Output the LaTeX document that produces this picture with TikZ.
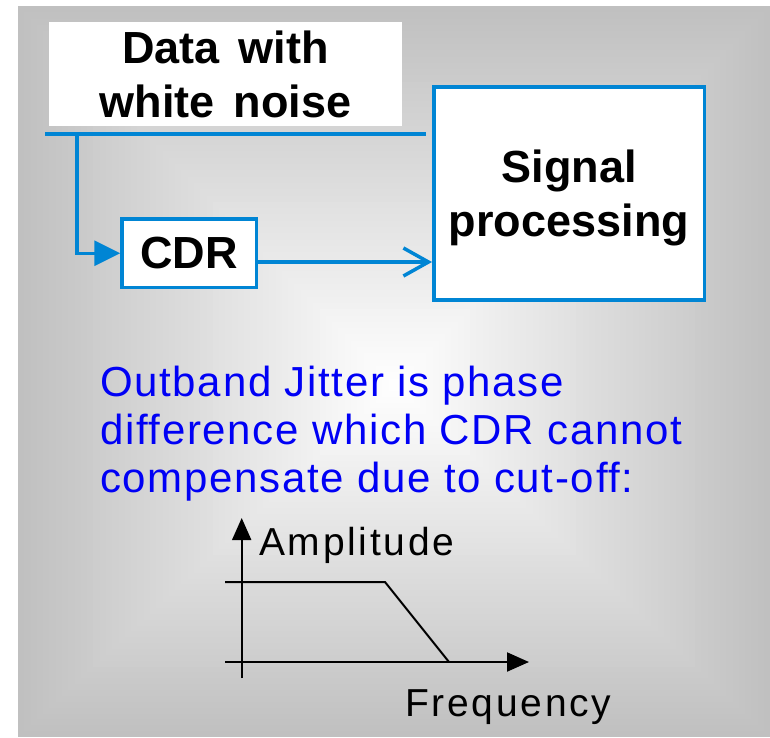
\documentclass[tikz,border=0pt]{standalone}
\usepackage{fontspec}
\setmainfont{Liberation Sans}
\newfontfamily\headfont{Liberation Sans}[WordSpace=1.5]
\newfontfamily\notefont{Liberation Sans}[LetterSpace=4]
\newfontfamily\axisfont{Liberation Sans}[LetterSpace=7]
\usetikzlibrary{arrows.meta}
\definecolor{linkblue}{RGB}{0,133,212}
\definecolor{noteblue}{RGB}{0,0,245}
\definecolor{bggray}{RGB}{192,192,192}
\begin{document}
\begin{tikzpicture}[x=1pt,y=-1pt,
  blockbox/.style={draw=linkblue,line width=3.5pt,fill=white,inner sep=0pt},
  labelbox/.style={fill=white,inner sep=0pt},
  headtext/.style={font=\headfont\bfseries\fontsize{45}{54}\selectfont,align=center},
  link/.style={draw=linkblue,line width=3.5pt},
  axisline/.style={line width=2pt,-{Triangle[length=22pt,width=19pt]}},
  curve/.style={line width=2pt,line join=miter},
]
\useasboundingbox (0,0) rectangle (770,737);

% background: grey panel lightening towards a point in the middle
\def\cx{395}\def\cy{385}
\fill[bggray] (18,6) rectangle (770,737);
\foreach \i in {1,...,60}{
  \pgfmathsetmacro\t{1-\i/60}
  \pgfmathsetmacro\p{100*\i/60}
  \fill[white!\p!bggray]
    ({\cx-\t*(\cx-18)},{\cy-\t*(\cy-6)}) rectangle ({\cx+\t*(770-\cx)},{\cy+\t*(737-\cy)});
}

% blocks
\node[labelbox,headtext,minimum width=353pt,minimum height=104pt] (data) at (225.5,74) {Data with\\white noise};
\node[blockbox,headtext,minimum width=270.5pt,minimum height=213pt,text depth=0pt] (sig) at (569,193.5) {Signal\\processing};
\node[blockbox,headtext,minimum width=134.5pt,minimum height=68.5pt] (cdr) at (189.25,253.25) {CDR};

% connectors
\coordinate (feedL) at (45,134);
\coordinate (feedR) at (426,134);
\coordinate (tap) at (77,134);
\draw[link] (feedL) -- (feedR);
\draw[link,line join=miter,-{Triangle[length=26pt,width=25pt]}] (tap) |- (cdr.west);
\draw[link,-{Straight Barb[length=25pt,width=28pt]}]
  ([yshift=-8.75pt]cdr.east) -- ([yshift=-8.75pt]cdr.east -| sig.west);

% note
\node[anchor=north west,inner sep=0pt,align=left,text=noteblue,
      font=\notefont\fontsize{42}{48}\selectfont] (note) at (100,366)
  {Outband Jitter is phase\\difference which CDR cannot\\compensate due to cut-off:};

% transfer characteristic
\coordinate (yb) at (241.7,678);
\coordinate (yt) at (241.7,518);
\coordinate (xl) at (225,662);
\coordinate (xr) at (529,662);
\coordinate (p0) at (225,582);
\coordinate (p1) at (385,582);
\coordinate (p2) at (449,662);
\draw[axisline] (yb) -- (yt);
\draw[axisline] (xl) -- (xr);
\draw[curve] (p0) -- (p1) -- (p2);
\node[anchor=base west,inner sep=0pt,font=\axisfont\fontsize{39}{44}\selectfont] (amp) at (259,555) {Amplitude};
\node[anchor=base west,inner sep=0pt,font=\axisfont\fontsize{39}{44}\selectfont] (freq) at (405,716) {Frequency};
\end{tikzpicture}
\end{document}
